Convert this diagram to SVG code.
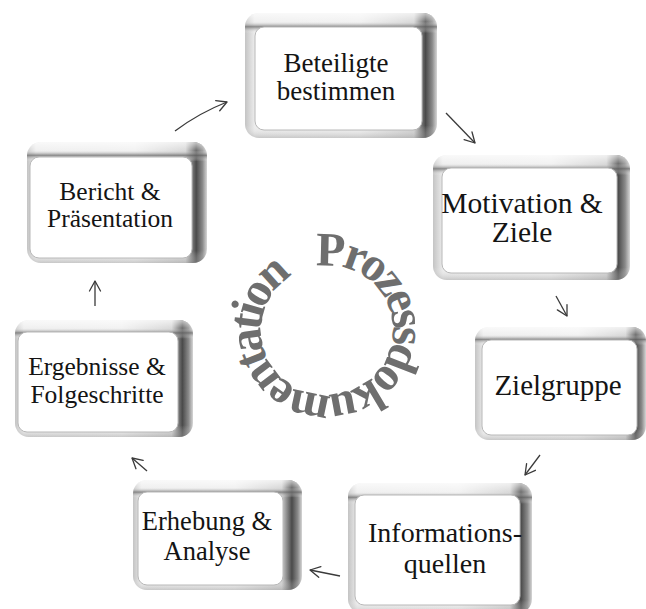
<svg xmlns="http://www.w3.org/2000/svg" width="646" height="609" viewBox="0 0 646 609">
<defs>
<linearGradient id="hg" x1="0" y1="0" x2="1" y2="0">
<stop offset="0" stop-color="#c4c4c4"/>
<stop offset="0.05" stop-color="#ececec"/>
<stop offset="0.6" stop-color="#efefef"/>
<stop offset="0.88" stop-color="#d0d0d0"/>
<stop offset="0.94" stop-color="#4a4a4a"/>
<stop offset="0.975" stop-color="#8a8a8a"/>
<stop offset="1" stop-color="#d6d6d6"/>
</linearGradient>
<linearGradient id="vg" x1="0" y1="0" x2="0" y2="1">
<stop offset="0" stop-color="#ffffff" stop-opacity="0.7"/>
<stop offset="0.07" stop-color="#ffffff" stop-opacity="0.2"/>
<stop offset="0.11" stop-color="#6a6a6a" stop-opacity="0.75"/>
<stop offset="0.16" stop-color="#ffffff" stop-opacity="0"/>
<stop offset="0.9" stop-color="#ffffff" stop-opacity="0"/>
<stop offset="1" stop-color="#9a9a9a" stop-opacity="0.45"/>
</linearGradient>
<marker id="ah" viewBox="-11 -7 13 14" refX="0" refY="0" markerWidth="13" markerHeight="14" markerUnits="userSpaceOnUse" orient="auto">
<path d="M-10,-5.5 L0,0 L-10,5.5" fill="none" stroke="#3a3a3a" stroke-width="1.3" stroke-linecap="round" stroke-linejoin="round"/>
</marker>
<path id="circ" d="M315.9,267 A64,64 0 1 1 338.1,393 A64,64 0 1 1 315.9,267"/>
</defs>
<style>
.o{fill:url(#hg)}
.v{fill:url(#vg)}
.i{fill:#ffffff;stroke:#b8b8b8;stroke-width:1}
.t{font-family:"Liberation Serif","Times New Roman",serif;fill:#141414;text-anchor:middle}
.c{fill:none;stroke:#3a3a3a;stroke-width:1.3;marker-end:url(#ah)}
.ring{font-family:"Liberation Serif","Times New Roman",serif;font-weight:bold;font-size:48px;fill:#6e6e6e}
</style>

<g id="ring">
<text class="ring"><textPath href="#circ" textLength="385" lengthAdjust="spacing">Prozessdokumentation</textPath></text>
</g>

<g id="connectors">
<path class="c" d="M175,131 Q199,113 227,102"/>
<path class="c" d="M446,113 L475,143"/>
<path class="c" d="M556,296 L567,316"/>
<path class="c" d="M540,455 L525,475"/>
<path class="c" d="M340,576 L310,570"/>
<path class="c" d="M147,471 L132,458"/>
<path class="c" d="M95,306 L95,281"/>
</g>

<g id="n1">
<rect class="o" x="245" y="13" width="192" height="125" rx="14"/>
<rect class="v" x="245" y="13" width="192" height="125" rx="14"/>
<rect class="i" x="255" y="27" width="167" height="103" rx="9"/>
<text class="t" x="336" y="72" font-size="27">Beteiligte</text>
<text class="t" x="336" y="100" font-size="27">bestimmen</text>
</g>

<g id="n2">
<rect class="o" x="433" y="155" width="197" height="125" rx="14"/>
<rect class="v" x="433" y="155" width="197" height="125" rx="14"/>
<rect class="i" x="442" y="168" width="175" height="105" rx="9"/>
<text class="t" x="522" y="213" font-size="29.5">Motivation &amp;</text>
<text class="t" x="522" y="242" font-size="29.5">Ziele</text>
</g>

<g id="n3">
<rect class="o" x="475" y="327" width="171" height="113" rx="14"/>
<rect class="v" x="475" y="327" width="171" height="113" rx="14"/>
<rect class="i" x="482" y="340" width="155" height="95" rx="9"/>
<text class="t" x="558" y="395" font-size="29">Zielgruppe</text>
</g>

<g id="n4">
<rect class="o" x="348" y="483" width="184" height="130" rx="14"/>
<rect class="v" x="348" y="483" width="184" height="130" rx="14"/>
<rect class="i" x="355" y="495" width="165" height="110" rx="9"/>
<text class="t" x="445" y="542" font-size="28">Informations-</text>
<text class="t" x="445" y="573" font-size="28">quellen</text>
</g>

<g id="n5">
<rect class="o" x="133" y="480" width="169" height="110" rx="14"/>
<rect class="v" x="133" y="480" width="169" height="110" rx="14"/>
<rect class="i" x="138" y="492" width="145" height="93" rx="9"/>
<text class="t" x="207" y="530" font-size="26.5">Erhebung &amp;</text>
<text class="t" x="207" y="560" font-size="26.5">Analyse</text>
</g>

<g id="n6">
<rect class="o" x="15" y="320" width="178" height="117" rx="14"/>
<rect class="v" x="15" y="320" width="178" height="117" rx="14"/>
<rect class="i" x="18" y="332" width="160" height="100" rx="9"/>
<text class="t" x="97" y="375" font-size="25.5">Ergebnisse &amp;</text>
<text class="t" x="97" y="403" font-size="25.5">Folgeschritte</text>
</g>

<g id="n7">
<rect class="o" x="27" y="142" width="180" height="121" rx="14"/>
<rect class="v" x="27" y="142" width="180" height="121" rx="14"/>
<rect class="i" x="30" y="157" width="162" height="101" rx="9"/>
<text class="t" x="110" y="200" font-size="25.5">Bericht &amp;</text>
<text class="t" x="110" y="227" font-size="25.5">Präsentation</text>
</g>
</svg>
